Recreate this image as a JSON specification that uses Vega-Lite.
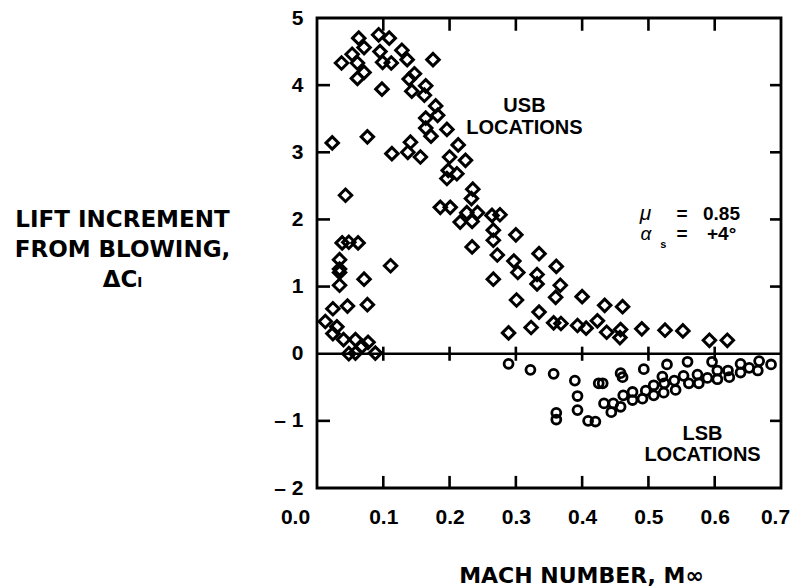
{
  "$schema": "https://vega.github.io/schema/vega-lite/v6.json",
  "width": 464,
  "height": 470,
  "autosize": {"type": "none"},
  "padding": {"left": 317, "top": 18, "right": 20, "bottom": 100},
  "background": "white",
  "config": {
    "view": {"stroke": "black", "strokeWidth": 2.8},
    "axis": {
      "grid": false,
      "labelColor": "black",
      "labelFont": "Liberation Sans",
      "labelFontWeight": "bold",
      "labelFontSize": 21,
      "titleColor": "black"
    },
    "text": {"color": "black"},
    "rule": {"color": "black", "strokeWidth": 2.6}
  },
  "datasets": {
    "usb": [
      {"M": 0.063, "C": 4.70}, {"M": 0.093, "C": 4.75}, {"M": 0.109, "C": 4.70}, {"M": 0.071, "C": 4.56},
      {"M": 0.053, "C": 4.46}, {"M": 0.037, "C": 4.33}, {"M": 0.061, "C": 4.33}, {"M": 0.071, "C": 4.19},
      {"M": 0.061, "C": 4.10}, {"M": 0.095, "C": 4.50}, {"M": 0.099, "C": 4.34}, {"M": 0.112, "C": 4.33},
      {"M": 0.128, "C": 4.52}, {"M": 0.136, "C": 4.38}, {"M": 0.175, "C": 4.38}, {"M": 0.098, "C": 3.94},
      {"M": 0.147, "C": 4.17}, {"M": 0.139, "C": 4.09}, {"M": 0.143, "C": 3.91}, {"M": 0.164, "C": 3.99},
      {"M": 0.162, "C": 3.85}, {"M": 0.179, "C": 3.69}, {"M": 0.164, "C": 3.51}, {"M": 0.182, "C": 3.55},
      {"M": 0.164, "C": 3.36}, {"M": 0.196, "C": 3.34}, {"M": 0.172, "C": 3.24}, {"M": 0.076, "C": 3.23},
      {"M": 0.023, "C": 3.14}, {"M": 0.141, "C": 3.15}, {"M": 0.113, "C": 2.98}, {"M": 0.137, "C": 3.00},
      {"M": 0.156, "C": 2.93}, {"M": 0.213, "C": 3.11}, {"M": 0.200, "C": 2.93}, {"M": 0.224, "C": 2.88},
      {"M": 0.198, "C": 2.73}, {"M": 0.211, "C": 2.68}, {"M": 0.196, "C": 2.61}, {"M": 0.235, "C": 2.45},
      {"M": 0.233, "C": 2.31}, {"M": 0.043, "C": 2.36}, {"M": 0.186, "C": 2.18}, {"M": 0.201, "C": 2.18},
      {"M": 0.226, "C": 2.10}, {"M": 0.242, "C": 2.10}, {"M": 0.216, "C": 1.96}, {"M": 0.234, "C": 1.97},
      {"M": 0.264, "C": 2.06}, {"M": 0.276, "C": 2.07}, {"M": 0.266, "C": 1.84}, {"M": 0.266, "C": 1.69},
      {"M": 0.300, "C": 1.77}, {"M": 0.234, "C": 1.59}, {"M": 0.272, "C": 1.47}, {"M": 0.297, "C": 1.38},
      {"M": 0.335, "C": 1.49}, {"M": 0.361, "C": 1.30}, {"M": 0.303, "C": 1.21}, {"M": 0.266, "C": 1.11},
      {"M": 0.332, "C": 1.18}, {"M": 0.332, "C": 1.04}, {"M": 0.367, "C": 1.02}, {"M": 0.360, "C": 0.84},
      {"M": 0.301, "C": 0.80}, {"M": 0.400, "C": 0.85}, {"M": 0.434, "C": 0.72}, {"M": 0.461, "C": 0.70},
      {"M": 0.335, "C": 0.62}, {"M": 0.357, "C": 0.46}, {"M": 0.368, "C": 0.45}, {"M": 0.323, "C": 0.39},
      {"M": 0.289, "C": 0.31}, {"M": 0.393, "C": 0.42}, {"M": 0.406, "C": 0.38}, {"M": 0.423, "C": 0.49},
      {"M": 0.437, "C": 0.32}, {"M": 0.458, "C": 0.36}, {"M": 0.457, "C": 0.24}, {"M": 0.490, "C": 0.37},
      {"M": 0.525, "C": 0.35}, {"M": 0.552, "C": 0.34}, {"M": 0.592, "C": 0.20}, {"M": 0.619, "C": 0.20},
      {"M": 0.038, "C": 1.65}, {"M": 0.048, "C": 1.66}, {"M": 0.062, "C": 1.65}, {"M": 0.034, "C": 1.40},
      {"M": 0.034, "C": 1.26}, {"M": 0.034, "C": 1.21}, {"M": 0.111, "C": 1.31}, {"M": 0.071, "C": 1.11},
      {"M": 0.034, "C": 1.02}, {"M": 0.024, "C": 0.67}, {"M": 0.046, "C": 0.71}, {"M": 0.076, "C": 0.73},
      {"M": 0.0125, "C": 0.48}, {"M": 0.030, "C": 0.40}, {"M": 0.024, "C": 0.30}, {"M": 0.040, "C": 0.21},
      {"M": 0.058, "C": 0.21}, {"M": 0.077, "C": 0.17}, {"M": 0.068, "C": 0.11}, {"M": 0.048, "C": 0.00},
      {"M": 0.058, "C": 0.01}, {"M": 0.088, "C": 0.01}
    ],
    "lsb": [
      {"M": 0.289, "C": -0.15}, {"M": 0.322, "C": -0.24}, {"M": 0.357, "C": -0.30}, {"M": 0.389, "C": -0.40},
      {"M": 0.425, "C": -0.44}, {"M": 0.431, "C": -0.44}, {"M": 0.458, "C": -0.29}, {"M": 0.461, "C": -0.35},
      {"M": 0.493, "C": -0.23}, {"M": 0.528, "C": -0.16}, {"M": 0.559, "C": -0.12}, {"M": 0.596, "C": -0.12},
      {"M": 0.639, "C": -0.15}, {"M": 0.667, "C": -0.11}, {"M": 0.685, "C": -0.16}, {"M": 0.393, "C": -0.63},
      {"M": 0.393, "C": -0.84}, {"M": 0.361, "C": -0.88}, {"M": 0.361, "C": -0.98}, {"M": 0.409, "C": -1.00},
      {"M": 0.420, "C": -1.01}, {"M": 0.433, "C": -0.74}, {"M": 0.444, "C": -0.87}, {"M": 0.447, "C": -0.74},
      {"M": 0.458, "C": -0.79}, {"M": 0.462, "C": -0.62}, {"M": 0.476, "C": -0.57}, {"M": 0.476, "C": -0.69},
      {"M": 0.491, "C": -0.67}, {"M": 0.496, "C": -0.55}, {"M": 0.508, "C": -0.62}, {"M": 0.508, "C": -0.47},
      {"M": 0.523, "C": -0.58}, {"M": 0.521, "C": -0.34}, {"M": 0.524, "C": -0.44}, {"M": 0.539, "C": -0.40},
      {"M": 0.541, "C": -0.54}, {"M": 0.553, "C": -0.33}, {"M": 0.561, "C": -0.44}, {"M": 0.574, "C": -0.31},
      {"M": 0.576, "C": -0.44}, {"M": 0.589, "C": -0.36}, {"M": 0.604, "C": -0.25}, {"M": 0.604, "C": -0.38},
      {"M": 0.620, "C": -0.25}, {"M": 0.622, "C": -0.35}, {"M": 0.639, "C": -0.28}, {"M": 0.652, "C": -0.21},
      {"M": 0.665, "C": -0.25}
    ],
    "xticks": [{"M": 0.1}, {"M": 0.2}, {"M": 0.3}, {"M": 0.4}, {"M": 0.5}, {"M": 0.6}],
    "yticks": [{"C": -1}, {"C": 1}, {"C": 2}, {"C": 3}, {"C": 4}]
  },
  "resolve": {"axis": {"x": "independent", "y": "independent"}},
  "layer": [
    {
      "data": {"name": "usb"},
      "mark": {"type": "point", "shape": "diamond", "filled": false, "color": "black", "strokeWidth": 3, "size": 155, "opacity": 1},
      "encoding": {
        "x": {"field": "M", "type": "quantitative", "scale": {"domain": [0, 0.7], "nice": false, "zero": false}, "axis": null},
        "y": {"field": "C", "type": "quantitative", "scale": {"domain": [-2, 5], "nice": false, "zero": false}, "axis": null}
      }
    },
    {
      "data": {"name": "lsb"},
      "mark": {"type": "point", "shape": "circle", "filled": false, "color": "black", "strokeWidth": 2.8, "size": 80, "opacity": 1},
      "encoding": {
        "x": {"field": "M", "type": "quantitative", "axis": null},
        "y": {"field": "C", "type": "quantitative", "axis": null}
      }
    },
    {
      "data": {"values": [{}]},
      "mark": {"type": "rule"},
      "encoding": {
        "y": {"datum": 0, "type": "quantitative", "axis": null}
      }
    },
    {
      "data": {"name": "xticks"},
      "mark": {"type": "rule"},
      "encoding": {
        "x": {"field": "M", "type": "quantitative", "axis": null},
        "y": {"datum": -2, "type": "quantitative", "axis": null},
        "y2": {"datum": -1.82}
      }
    },
    {
      "data": {"name": "xticks"},
      "mark": {"type": "rule"},
      "encoding": {
        "x": {"field": "M", "type": "quantitative", "axis": null},
        "y": {"datum": 5, "type": "quantitative", "axis": null},
        "y2": {"datum": 4.81}
      }
    },
    {
      "data": {"name": "xticks"},
      "mark": {"type": "rule"},
      "encoding": {
        "x": {"field": "M", "type": "quantitative", "axis": null},
        "y": {"datum": -0.105, "type": "quantitative", "axis": null},
        "y2": {"datum": 0.105}
      }
    },
    {
      "data": {"name": "yticks"},
      "mark": {"type": "rule"},
      "encoding": {
        "y": {"field": "C", "type": "quantitative", "axis": null},
        "x": {"datum": 0, "type": "quantitative", "axis": null},
        "x2": {"datum": 0.0196}
      }
    },
    {
      "data": {"name": "yticks"},
      "mark": {"type": "rule"},
      "encoding": {
        "y": {"field": "C", "type": "quantitative", "axis": null},
        "x": {"datum": 0.7, "type": "quantitative", "axis": null},
        "x2": {"datum": 0.6834}
      }
    },
    {
      "data": {"values": [{}]},
      "mark": {"type": "text", "font": "Liberation Sans", "fontWeight": "bold", "fontSize": 20, "align": "center", "baseline": "alphabetic", "lineHeight": 22},
      "encoding": {
        "x": {"datum": 0.313, "type": "quantitative", "axis": null},
        "y": {
          "datum": 3.6, "type": "quantitative",
          "axis": {
            "orient": "left",
            "values": [-2, -1, 0, 1, 2, 3, 4, 5],
            "labelExpr": "datum.value < 0 ? '– ' + abs(datum.value) : datum.label",
            "ticks": false,
            "domain": false,
            "labelPadding": 14,
            "labelFlush": false,
            "labelOverlap": false,
            "title": ["LIFT INCREMENT", "FROM BLOWING,", "ΔCₗ"],
            "titleFont": "DejaVu Sans",
            "titleFontWeight": "bold",
            "titleFontSize": 23,
            "titleAngle": 0,
            "titleAlign": "center",
            "titleBaseline": "alphabetic",
            "titleLineHeight": 30,
            "titleX": -195,
            "titleY": 208
          }
        },
        "text": {"value": ["USB", "LOCATIONS"]}
      }
    },
    {
      "data": {"values": [{}]},
      "mark": {"type": "text", "font": "Liberation Sans", "fontWeight": "bold", "fontSize": 20, "align": "center", "baseline": "alphabetic", "lineHeight": 21},
      "encoding": {
        "x": {"datum": 0.5816, "type": "quantitative", "axis": null},
        "y": {"datum": -1.285, "type": "quantitative", "axis": null},
        "text": {"value": ["LSB", "LOCATIONS"]}
      }
    },
    {
      "data": {"values": [{}]},
      "mark": {"type": "text", "font": "Liberation Sans", "fontStyle": "italic", "fontSize": 21, "align": "left", "baseline": "alphabetic"},
      "encoding": {
        "x": {"datum": 0.487, "type": "quantitative", "axis": null},
        "y": {"datum": 1.99, "type": "quantitative", "axis": null},
        "text": {"value": "μ"}
      }
    },
    {
      "data": {"values": [{}]},
      "mark": {"type": "text", "font": "Liberation Sans", "fontStyle": "italic", "fontSize": 19, "align": "left", "baseline": "alphabetic"},
      "encoding": {
        "x": {
          "datum": 0.488, "type": "quantitative",
          "axis": {
            "orient": "bottom",
            "values": [0, 0.1, 0.2, 0.3, 0.4, 0.5, 0.6, 0.7],
            "format": ".1f",
            "ticks": false,
            "domain": false,
            "labelPadding": 18,
            "labelOffset": {"expr": "datum.value == 0 ? -22 : (datum.value > 0.65 ? -6 : 0)"},
            "labelFlush": false,
            "labelOverlap": false,
            "title": "MACH NUMBER, M∞",
            "titleFont": "DejaVu Sans",
            "titleFontWeight": "bold",
            "titleFontSize": 22,
            "titleAlign": "center",
            "titleBaseline": "alphabetic",
            "titleX": 264,
            "titleY": 94
          }
        },
        "y": {"datum": 1.69, "type": "quantitative", "axis": null},
        "text": {"value": "α"}
      }
    },
    {
      "data": {"values": [{}]},
      "mark": {"type": "text", "font": "Liberation Sans", "fontWeight": "bold", "fontSize": 11, "align": "left", "baseline": "alphabetic"},
      "encoding": {
        "x": {"datum": 0.518, "type": "quantitative", "axis": null},
        "y": {"datum": 1.575, "type": "quantitative", "axis": null},
        "text": {"value": "s"}
      }
    },
    {
      "data": {"values": [{}]},
      "mark": {"type": "text", "font": "Liberation Sans", "fontWeight": "bold", "fontSize": 19, "align": "center", "baseline": "alphabetic"},
      "encoding": {
        "x": {"datum": 0.5506, "type": "quantitative", "axis": null},
        "y": {"datum": 1.99, "type": "quantitative", "axis": null},
        "text": {"value": "="}
      }
    },
    {
      "data": {"values": [{}]},
      "mark": {"type": "text", "font": "Liberation Sans", "fontWeight": "bold", "fontSize": 19, "align": "center", "baseline": "alphabetic"},
      "encoding": {
        "x": {"datum": 0.5506, "type": "quantitative", "axis": null},
        "y": {"datum": 1.69, "type": "quantitative", "axis": null},
        "text": {"value": "="}
      }
    },
    {
      "data": {"values": [{}]},
      "mark": {"type": "text", "font": "Liberation Sans", "fontWeight": "bold", "fontSize": 19, "align": "left", "baseline": "alphabetic"},
      "encoding": {
        "x": {"datum": 0.5823, "type": "quantitative", "axis": null},
        "y": {"datum": 1.99, "type": "quantitative", "axis": null},
        "text": {"value": "0.85"}
      }
    },
    {
      "data": {"values": [{}]},
      "mark": {"type": "text", "font": "Liberation Sans", "fontWeight": "bold", "fontSize": 19, "align": "left", "baseline": "alphabetic"},
      "encoding": {
        "x": {"datum": 0.5884, "type": "quantitative", "axis": null},
        "y": {"datum": 1.69, "type": "quantitative", "axis": null},
        "text": {"value": "+4°"}
      }
    }
  ]
}
